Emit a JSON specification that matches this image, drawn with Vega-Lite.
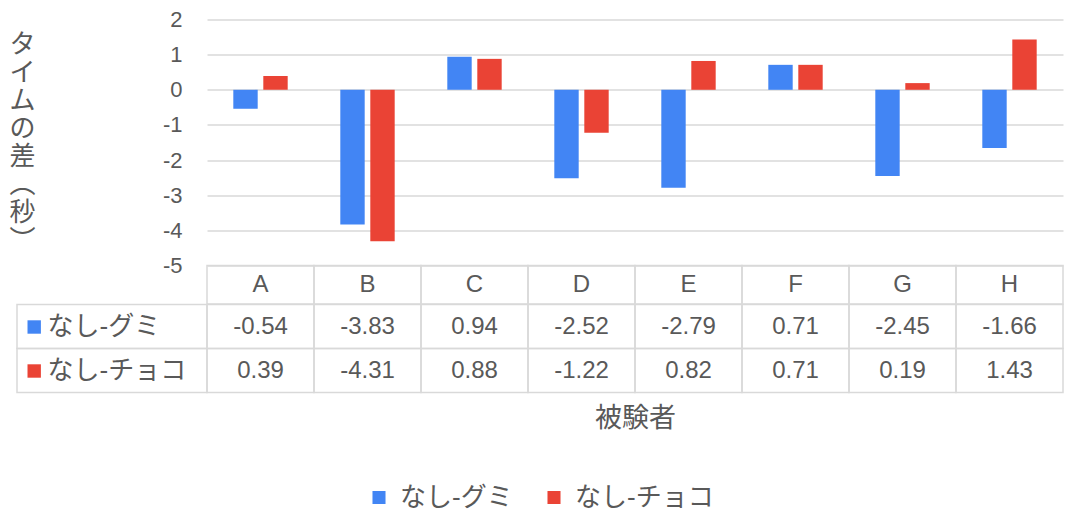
{
  "$schema": "https://vega.github.io/schema/vega-lite/v6.json",
  "padding": {"left": 8, "top": 8.5, "right": 0, "bottom": 0},
  "background": "white",
  "config": {
    "view": {"stroke": null},
    "font": "Liberation Sans, Noto Sans CJK JP, sans-serif",
    "text": {"color": "#595959"},
    "locale": {
      "number": {"decimal": ".", "thousands": ",", "grouping": [3], "currency": ["$", ""], "minus": "-"}
    }
  },
  "datasets": {
    "bars": [
      {"subject": "A", "series": "なし-グミ", "value": -0.54},
      {"subject": "B", "series": "なし-グミ", "value": -3.83},
      {"subject": "C", "series": "なし-グミ", "value": 0.94},
      {"subject": "D", "series": "なし-グミ", "value": -2.52},
      {"subject": "E", "series": "なし-グミ", "value": -2.79},
      {"subject": "F", "series": "なし-グミ", "value": 0.71},
      {"subject": "G", "series": "なし-グミ", "value": -2.45},
      {"subject": "H", "series": "なし-グミ", "value": -1.66},
      {"subject": "A", "series": "なし-チョコ", "value": 0.39},
      {"subject": "B", "series": "なし-チョコ", "value": -4.31},
      {"subject": "C", "series": "なし-チョコ", "value": 0.88},
      {"subject": "D", "series": "なし-チョコ", "value": -1.22},
      {"subject": "E", "series": "なし-チョコ", "value": 0.82},
      {"subject": "F", "series": "なし-チョコ", "value": 0.71},
      {"subject": "G", "series": "なし-チョコ", "value": 0.19},
      {"subject": "H", "series": "なし-チョコ", "value": 1.43}
    ],
    "subjects": [
      {"subject": "A"}, {"subject": "B"}, {"subject": "C"}, {"subject": "D"},
      {"subject": "E"}, {"subject": "F"}, {"subject": "G"}, {"subject": "H"}
    ],
    "seriesList": [{"series": "なし-グミ"}, {"series": "なし-チョコ"}]
  },
  "columns": 2,
  "spacing": 0,
  "bounds": "flush",
  "concat": [
    {
      "width": 190,
      "height": 246,
      "data": {"values": [{}]},
      "mark": {"type": "text"},
      "encoding": {"text": {"value": ""}}
    },
    {
      "width": 856,
      "height": 246,
      "data": {"name": "bars"},
      "mark": {"type": "bar"},
      "encoding": {
        "x": {
          "field": "subject",
          "type": "nominal",
          "scale": {"paddingInner": 0, "paddingOuter": 0},
          "axis": null
        },
        "xOffset": {
          "field": "series",
          "type": "nominal",
          "scale": {"domain": ["なし-グミ", "なし-チョコ"], "paddingInner": 0.187, "paddingOuter": 0.877}
        },
        "y": {
          "field": "value",
          "type": "quantitative",
          "scale": {"domain": [-5, 2], "nice": false, "zero": true},
          "axis": {
            "values": [-5, -4, -3, -2, -1, 0, 1, 2],
            "format": "d",
            "domain": false,
            "ticks": false,
            "tickSize": 0,
            "labelPadding": 25,
            "labelFontSize": 22,
            "labelColor": "#595959",
            "gridColor": "#d9d9d9",
            "gridWidth": 1.5,
            "title": ["タ", "イ", "ム", "の", "差", "︵", "秒", "︶"],
            "titleAngle": 0,
            "titleAlign": "center",
            "titleBaseline": "middle",
            "titleX": -185,
            "titleY": 24.5,
            "titleLineHeight": 28,
            "titleFontSize": 26,
            "titleFontWeight": "normal",
            "titleColor": "#595959"
          }
        },
        "color": {
          "field": "series",
          "type": "nominal",
          "scale": {"domain": ["なし-グミ", "なし-チョコ"], "range": ["#4285F4", "#EA4335"]},
          "legend": {
            "title": null,
            "orient": "none",
            "direction": "horizontal",
            "legendX": 349,
            "legendY": 465,
            "symbolType": "square",
            "symbolSize": 170,
            "symbolStrokeWidth": 0,
            "labelFontSize": 26,
            "labelColor": "#595959",
            "labelOffset": 8,
            "columnPadding": 28
          }
        }
      }
    },
    {
      "width": 190,
      "height": 38.5,
      "data": {"values": [{}]},
      "mark": {"type": "text"},
      "encoding": {"text": {"value": ""}}
    },
    {
      "width": 856,
      "height": 38.5,
      "data": {"name": "subjects"},
      "layer": [
        {
          "mark": {"type": "rect", "fill": "transparent", "stroke": "#d9d9d9", "strokeWidth": 1.5},
          "encoding": {
            "x": {"field": "subject", "type": "nominal", "scale": {"paddingInner": 0, "paddingOuter": 0}, "axis": null}
          }
        },
        {
          "mark": {"type": "text", "fontSize": 24, "color": "#595959"},
          "encoding": {
            "x": {"field": "subject", "type": "nominal", "axis": null},
            "text": {"field": "subject"}
          }
        }
      ]
    },
    {
      "width": 190,
      "height": 88,
      "data": {"name": "seriesList"},
      "mark": {"type": "rect", "fill": "transparent", "stroke": "#d9d9d9", "strokeWidth": 1.5},
      "encoding": {
        "y": {
          "field": "series",
          "type": "nominal",
          "scale": {"domain": ["なし-グミ", "なし-チョコ"], "paddingInner": 0, "paddingOuter": 0},
          "axis": {
            "orient": "left",
            "offset": -23.4,
            "domain": false,
            "grid": false,
            "ticks": true,
            "tickSize": 13.4,
            "tickWidth": 13.4,
            "tickCap": "butt",
            "tickColor": {"condition": {"test": "datum.value === 'なし-グミ'", "value": "#4285F4"}, "value": "#EA4335"},
            "labelAlign": "left",
            "labelPadding": -20,
            "labelFontSize": 26,
            "labelColor": "#595959",
            "title": null
          }
        }
      }
    },
    {
      "width": 856,
      "height": 88,
      "data": {"name": "bars"},
      "encoding": {
        "x": {
          "field": "subject",
          "type": "nominal",
          "scale": {"paddingInner": 0, "paddingOuter": 0},
          "axis": {
            "labels": false,
            "ticks": false,
            "domain": false,
            "grid": false,
            "title": "被験者",
            "titleFontSize": 27,
            "titleFontWeight": "normal",
            "titleColor": "#595959",
            "titlePadding": 13
          }
        },
        "y": {
          "field": "series",
          "type": "nominal",
          "scale": {"domain": ["なし-グミ", "なし-チョコ"], "paddingInner": 0, "paddingOuter": 0},
          "axis": null
        }
      },
      "layer": [
        {"mark": {"type": "rect", "fill": "transparent", "stroke": "#d9d9d9", "strokeWidth": 1.5}},
        {
          "mark": {"type": "text", "fontSize": 24, "color": "#595959"},
          "encoding": {"text": {"field": "value", "type": "quantitative", "format": ".2f"}}
        }
      ]
    }
  ]
}
